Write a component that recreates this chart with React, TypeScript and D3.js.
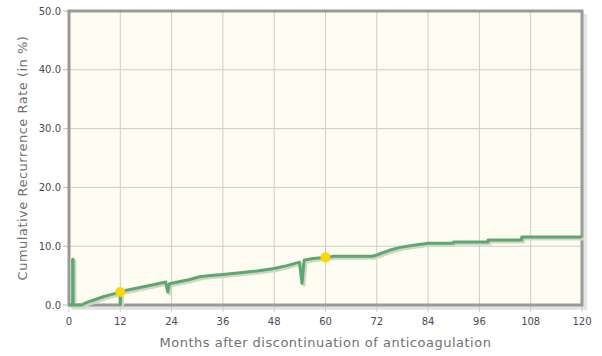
import React from "react";
import * as d3 from "d3";

const xTicks = [0, 12, 24, 36, 48, 60, 72, 84, 96, 108, 120];
const yTicks = [0, 10, 20, 30, 40, 50];
const months = [0, 0.85, 0.85, 0.95, 0.95, 3, 4, 6, 8, 10, 11.95, 11.95, 12.05, 12.05, 14, 16, 18, 20, 22.6, 23.1, 23.5, 26, 28, 30.6, 33, 36, 40, 44, 48, 51, 53.9, 54.5, 55, 57, 60, 62, 71, 72, 73, 75, 77.4, 81, 84, 89.9, 89.9, 98, 98, 105.9, 105.9, 120];
const rates = [0, 0, 7.8, 7.8, 0, 0, 0.4, 0.9, 1.4, 1.8, 2.2, 0.1, 0.1, 2.3, 2.6, 2.9, 3.2, 3.5, 3.9, 2.2, 3.6, 4.0, 4.3, 4.8, 5.0, 5.2, 5.5, 5.8, 6.2, 6.7, 7.3, 3.7, 7.6, 7.9, 8.1, 8.3, 8.3, 8.5, 8.8, 9.3, 9.8, 10.2, 10.5, 10.5, 10.7, 10.7, 11.05, 11.05, 11.55, 11.55];
const markerMonths = [12, 60];
const markerRates = [2.2, 8.1];

const W = 602, H = 356;
const left = 69, right = 582, top = 11, bottom = 305;

export default function App() {
  const x = d3.scaleLinear().domain([0, 120]).range([left, right]);
  const y = d3.scaleLinear().domain([0, 50]).range([bottom, top]);
  const pts: [number, number][] = months.map((m, i) => [m, rates[i]]);
  const line = d3.line<[number, number]>().x(d => x(d[0])).y(d => y(d[1]));
  const path = line(pts) || "";
  const tickFont = "DejaVu Sans, sans-serif";
  const titleFont = "DejaVu Sans, sans-serif";
  return (
    <svg width={W} height={H} style={{ position: "absolute", left: 0, top: 0, background: "#fff" }}>
      <rect x={left + 3} y={top + 3} width={right - left + 2} height={bottom - top + 2} fill="#e4e4e4" />
      <rect x={left} y={top} width={right - left} height={bottom - top} fill="#fffcf2" />
      {xTicks.map(t => (
        <line key={"gx" + t} x1={x(t)} x2={x(t)} y1={top} y2={bottom} stroke="#cccccc" strokeWidth={1} />
      ))}
      {yTicks.map(t => (
        <line key={"gy" + t} x1={left} x2={right} y1={y(t)} y2={y(t)} stroke="#cccccc" strokeWidth={1} />
      ))}
      {xTicks.map(t => (
        <line key={"tx" + t} x1={x(t)} x2={x(t)} y1={bottom} y2={bottom + 7} stroke="#cccccc" strokeWidth={1} />
      ))}
      {yTicks.map(t => (
        <line key={"ty" + t} x1={left - 6} x2={left} y1={y(t)} y2={y(t)} stroke="#bbbbbb" strokeWidth={1} />
      ))}
      <rect x={left} y={top} width={right - left} height={bottom - top} fill="none" stroke="#9a9a9a" strokeWidth={3} />
      <path d={path} fill="none" stroke="#d9d3c2" strokeWidth={3} transform="translate(2,2)" strokeLinejoin="round" />
      <path d={path} fill="none" stroke="#5aa872" strokeWidth={3} strokeLinejoin="round" />
      {markerMonths.map((m, i) => (
        <circle key={"mk" + i} cx={x(m)} cy={y(markerRates[i])} r={5} fill="#ffd700" />
      ))}
      {yTicks.map(t => (
        <text key={"ly" + t} x={left - 8} y={y(t)} dy="0.35em" textAnchor="end" fontFamily={tickFont} fontSize={10} fill="#4a4a55">
          {t.toFixed(1)}
        </text>
      ))}
      {xTicks.map(t => (
        <text key={"lx" + t} x={x(t)} y={321} dy="0.35em" textAnchor="middle" fontFamily={tickFont} fontSize={10} fill="#4a4a55">
          {t}
        </text>
      ))}
      <text x={(left + right) / 2} y={342} dy="0.35em" textAnchor="middle" fontFamily={titleFont} fontSize={13} letterSpacing={0.5} fill="#707070">
        Months after discontinuation of anticoagulation
      </text>
      <text transform={`translate(22,${(top + bottom) / 2}) rotate(-90)`} dy="0.35em" textAnchor="middle" fontFamily={titleFont} fontSize={13} letterSpacing={0.5} fill="#707070">
        Cumulative Recurrence Rate (in %)
      </text>
    </svg>
  );
}
